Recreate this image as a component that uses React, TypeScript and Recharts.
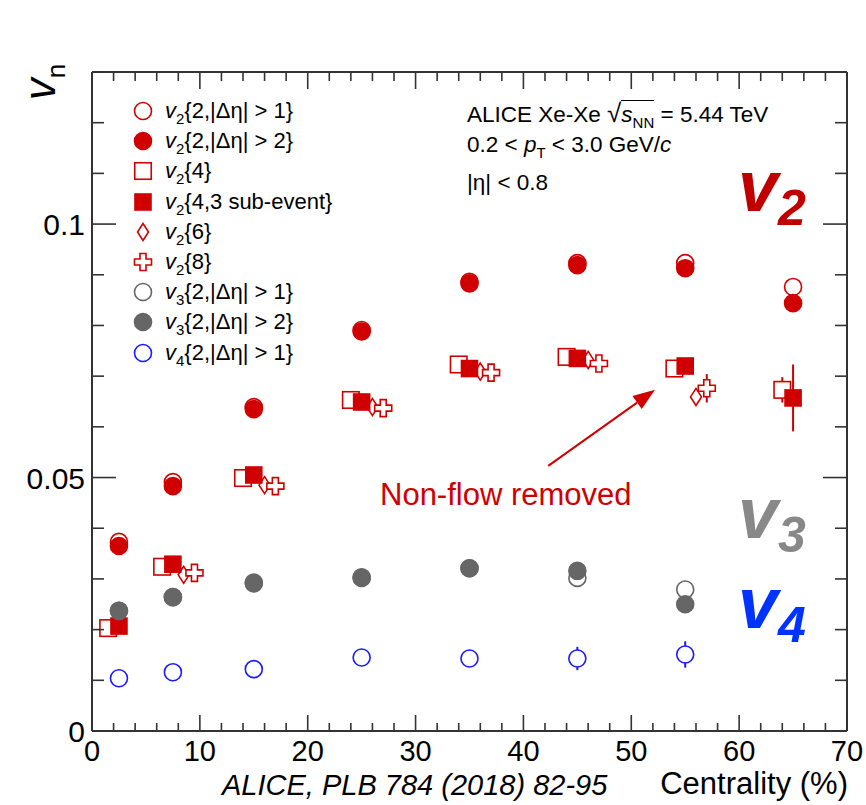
import React from "react";
import { ScatterChart, Scatter, XAxis, YAxis, ErrorBar, ReferenceLine } from "recharts";

// centrality bin centres (%)
const cent = [2.5, 7.5, 15, 25, 35, 45, 55, 65];
const centMid = [7.5, 15, 25, 35, 45, 55];
const centV3 = [2.5, 7.5, 15, 25, 35, 45, 55];

// v2 two-particle, |Δη| > 1 and > 2
const v2Gap1 = [0.0373, 0.0491, 0.0639, 0.0791, 0.0886, 0.0923, 0.0923, 0.0876];
const v2Gap1Err = [0, 0, 0, 0, 0, 0, 0, 0.001];
const v2Gap2 = [0.0365, 0.0483, 0.0635, 0.0788, 0.0883, 0.0919, 0.0913, 0.0844];

// v2 multi-particle cumulants
const v2c4 = [0.0203, 0.0324, 0.0499, 0.0653, 0.0723, 0.0738, 0.0715, 0.0673];
const v2c4Err = [0, 0, 0, 0, 0, 0, 0, 0.0025];
const v2c4Sub = [0.0207, 0.0329, 0.0505, 0.0649, 0.0715, 0.0735, 0.072, 0.0657];
const v2c4SubErr = [0, 0, 0, 0, 0, 0, 0, 0.0066];
const v2c6 = [0.0308, 0.0485, 0.0639, 0.0709, 0.0732, 0.0659];
const v2c8 = [0.0312, 0.0483, 0.0637, 0.0707, 0.0725, 0.0676];
const v2c8Err = [0, 0, 0, 0, 0, 0.0028];

// v3, v4
const v3Gap1 = [0.0237, 0.0264, 0.0293, 0.0302, 0.0321, 0.0302, 0.0279];
const v3Gap2 = [0.0237, 0.0264, 0.0291, 0.0303, 0.0321, 0.0316, 0.025];
const v4Gap1 = [0.0104, 0.0116, 0.0122, 0.0145, 0.0143, 0.0143, 0.0151];
const v4Gap1Err = [0, 0, 0, 0, 0, 0.0023, 0.0026];

const xTicks = [0, 2, 4, 6, 8, 10, 12, 14, 16, 18, 20, 22, 24, 26, 28, 30, 32, 34, 36, 38, 40, 42, 44, 46, 48, 50, 52, 54, 56, 58, 60, 62, 64, 66, 68, 70];
const yTicks = [0, 0.01, 0.02, 0.03, 0.04, 0.05, 0.06, 0.07, 0.08, 0.09, 0.1, 0.11, 0.12, 0.13];

const RED = "#d00000";
const GRAY = "#666666";
const BLUE = "#1a1aff";
const AXIS = "#333";
const FONT = '"Liberation Sans", Arial, Helvetica, sans-serif';

const build = (xs: number[], ys: number[], shift = 0, errs?: number[]) =>
  xs.map((c, i) => ({ x: c + shift, y: ys[i], e: errs ? errs[i] : 0 }));

type Kind = "circle" | "square" | "diamond" | "cross";

function Marker({ kind, cx, cy, color, filled }: { kind: Kind; cx: number; cy: number; color: string; filled: boolean }) {
  const fill = filled ? color : "#fff";
  const sw = 1.6;
  if (kind === "circle") return <circle cx={cx} cy={cy} r={8.5} fill={fill} stroke={color} strokeWidth={sw} />;
  if (kind === "square") {
    const s = filled ? 16 : 16.5;
    return <rect x={cx - s / 2} y={cy - s / 2} width={s} height={s} fill={fill} stroke={color} strokeWidth={sw} />;
  }
  if (kind === "diamond") {
    const w = 5.5, h = 8.5;
    return <polygon points={`${cx},${cy - h} ${cx + w},${cy} ${cx},${cy + h} ${cx - w},${cy}`} fill="none" stroke={color} strokeWidth={sw} />;
  }
  const a = 8.5, t = 3;
  const pts = [
    [-t, -a], [t, -a], [t, -t], [a, -t], [a, t], [t, t], [t, a], [-t, a], [-t, t], [-a, t], [-a, -t], [-t, -t],
  ].map(([dx, dy]) => `${cx + dx},${cy + dy}`).join(" ");
  return <polygon points={pts} fill={fill} stroke={color} strokeWidth={sw} />;
}

const series = [
  { id: "v2g1", n: "2", txt: "{2,|Δη| > 1}", kind: "circle" as Kind, color: RED, filled: false, data: build(cent, v2Gap1, 0, v2Gap1Err) },
  { id: "v2g2", n: "2", txt: "{2,|Δη| > 2}", kind: "circle" as Kind, color: RED, filled: true, data: build(cent, v2Gap2) },
  { id: "v2c4", n: "2", txt: "{4}", kind: "square" as Kind, color: RED, filled: false, data: build(cent, v2c4, -1, v2c4Err) },
  { id: "v2c4s", n: "2", txt: "{4,3 sub-event}", kind: "square" as Kind, color: RED, filled: true, data: build(cent, v2c4Sub, 0, v2c4SubErr) },
  { id: "v2c6", n: "2", txt: "{6}", kind: "diamond" as Kind, color: RED, filled: false, data: build(centMid, v2c6, 1) },
  { id: "v2c8", n: "2", txt: "{8}", kind: "cross" as Kind, color: RED, filled: false, data: build(centMid, v2c8, 2, v2c8Err) },
  { id: "v3g1", n: "3", txt: "{2,|Δη| > 1}", kind: "circle" as Kind, color: GRAY, filled: false, data: build(centV3, v3Gap1) },
  { id: "v3g2", n: "3", txt: "{2,|Δη| > 2}", kind: "circle" as Kind, color: GRAY, filled: true, data: build(centV3, v3Gap2) },
  { id: "v4g1", n: "4", txt: "{2,|Δη| > 1}", kind: "circle" as Kind, color: BLUE, filled: false, data: build(centV3, v4Gap1, 0, v4Gap1Err) },
];

const BottomTick = (p: any) => {
  const v = p.payload.value;
  const major = v % 10 === 0;
  return (
    <g>
      <line x1={p.x} x2={p.x} y1={p.y} y2={p.y - (major ? 16 : 8)} stroke={AXIS} strokeWidth={1.6} />
      {major && (
        <text x={p.x} y={p.y + 30} textAnchor="middle" fontFamily={FONT} fontSize={29} fill="#000">{v}</text>
      )}
    </g>
  );
};
const TopTick = (p: any) => {
  const major = p.payload.value % 10 === 0;
  return <line x1={p.x} x2={p.x} y1={p.y + 1} y2={p.y + 1 + (major ? 16 : 8)} stroke={AXIS} strokeWidth={1.6} />;
};
const isMajorY = (v: number) => Math.abs(v / 0.05 - Math.round(v / 0.05)) < 1e-6;
const LeftTick = (p: any) => {
  const v = p.payload.value;
  const major = isMajorY(v);
  return (
    <g>
      <line x1={p.x} x2={p.x + (major ? 24 : 12)} y1={p.y} y2={p.y} stroke={AXIS} strokeWidth={1.6} />
      {major && (
        <text x={p.x - 7} y={p.y + 11} textAnchor="end" fontFamily={FONT} fontSize={30} fill="#000">{String(v)}</text>
      )}
    </g>
  );
};
const RightTick = (p: any) => {
  const major = isMajorY(p.payload.value);
  return <line x1={p.x} x2={p.x - (major ? 24 : 12)} y1={p.y} y2={p.y} stroke={AXIS} strokeWidth={1.6} />;
};

const Arrow = (p: any) => {
  const { x1, y1, x2, y2 } = p;
  const ang = Math.atan2(y2 - y1, x2 - x1);
  const L = 22, W = 8;
  const bx = x2 - L * Math.cos(ang), by = y2 - L * Math.sin(ang);
  const nx = -Math.sin(ang) * W, ny = Math.cos(ang) * W;
  return (
    <g>
      <line x1={x1} y1={y1} x2={bx} y2={by} stroke={RED} strokeWidth={2} />
      <polygon points={`${x2},${y2} ${bx + nx},${by + ny} ${bx - nx},${by - ny}`} fill={RED} />
    </g>
  );
};

const sub = (s: string, size = 15): React.ReactNode => (
  <span style={{ fontSize: size, position: "relative", top: 6 }}>{s}</span>
);

export default function App() {
  return (
    <div style={{ position: "absolute", left: 0, top: 0, width: 866, height: 805, background: "#fff", overflow: "hidden", fontFamily: FONT }}>
      <ScatterChart width={866} height={805} margin={{ top: 71, right: 18, bottom: 0, left: 0 }}>
        <XAxis type="number" dataKey="x" domain={[0, 70]} ticks={xTicks} interval={0} height={74}
          tickSize={0} tickMargin={0} tickLine={false} tick={<BottomTick />} axisLine={{ stroke: AXIS, strokeWidth: 2 }} allowDataOverflow />
        <XAxis xAxisId="top" orientation="top" type="number" dataKey="x" domain={[0, 70]} ticks={xTicks} interval={0} height={1}
          tickSize={0} tickMargin={0} tickLine={false} tick={<TopTick />} axisLine={{ stroke: AXIS, strokeWidth: 2 }} allowDataOverflow />
        <YAxis type="number" dataKey="y" domain={[0, 0.13]} ticks={yTicks} interval={0} width={92}
          tickSize={0} tickMargin={0} tickLine={false} tick={<LeftTick />} axisLine={{ stroke: AXIS, strokeWidth: 2 }} allowDataOverflow />
        <YAxis yAxisId="right" orientation="right" type="number" dataKey="y" domain={[0, 0.13]} ticks={yTicks} interval={0} width={1}
          tickSize={0} tickMargin={0} tickLine={false} tick={<RightTick />} axisLine={{ stroke: AXIS, strokeWidth: 2 }} allowDataOverflow />
        {/* invisible series so the mirrored top/right axes get a domain */}
        <Scatter xAxisId="top" yAxisId="right" data={series[0].data} isAnimationActive={false} legendType="none" shape={() => <g />} />
        {series.map((s) => (
          <Scatter key={s.id} name={s.id} data={s.data} isAnimationActive={false}
            shape={(p: any) => <Marker kind={s.kind} cx={p.cx} cy={p.cy} color={s.color} filled={s.filled} />}>
            <ErrorBar dataKey="e" direction="y" width={0} stroke={s.color} strokeWidth={2} isAnimationActive={false} />
          </Scatter>
        ))}
        <ReferenceLine segment={[{ x: 42.3, y: 0.0523 }, { x: 52.2, y: 0.0673 }]} shape={<Arrow />} ifOverflow="visible" />
      </ScatterChart>

      {/* y title */}
      <div style={{ position: "absolute", left: 40, top: 82, transform: "translate(-50%,-50%) rotate(-90deg)", fontSize: 44, whiteSpace: "nowrap", lineHeight: 1 }}>
        <i>v</i><span style={{ fontSize: 26, position: "relative", top: 10 }}>n</span>
      </div>

      {/* x title and reference */}
      <div style={{ position: "absolute", right: 18, top: 768, fontSize: 31, lineHeight: 1, whiteSpace: "nowrap" }}>Centrality (%)</div>
      <div style={{ position: "absolute", left: 222, top: 771, fontSize: 29, lineHeight: 1, fontStyle: "italic", whiteSpace: "nowrap" }}>ALICE, PLB 784 (2018) 82-95</div>

      {/* legend */}
      {series.map((s, i) => (
        <div key={s.id} style={{ position: "absolute", left: 132, top: 111 + 30.2 * i - 15, height: 30, display: "flex", alignItems: "center", fontSize: 22, whiteSpace: "nowrap" }}>
          <svg width={22} height={22} style={{ display: "block" }}>
            <Marker kind={s.kind} cx={11} cy={11} color={s.color} filled={s.filled} />
          </svg>
          <span style={{ marginLeft: 11 }}><i>v</i>{sub(s.n)}{s.txt}</span>
        </div>
      ))}

      {/* system info */}
      <div style={{ position: "absolute", left: 467, top: 98, fontSize: 22.5, whiteSpace: "nowrap" }}>
        ALICE Xe-Xe <span style={{ fontSize: 26 }}>√</span><span style={{ borderTop: "1.5px solid #000", paddingTop: 1 }}><i>s</i>{sub("NN", 15)}</span> = 5.44 TeV
      </div>
      <div style={{ position: "absolute", left: 467, top: 132, fontSize: 22.5, whiteSpace: "nowrap" }}>
        0.2 &lt; <i>p</i>{sub("T", 15)} &lt; 3.0 GeV/<i>c</i>
      </div>
      <div style={{ position: "absolute", left: 467, top: 170, fontSize: 22.5, whiteSpace: "nowrap" }}>|η| &lt; 0.8</div>

      {/* big harmonic labels */}
      {[
        { n: "2", color: "#c00000", top: 150 },
        { n: "3", color: "#888888", top: 477 },
        { n: "4", color: "#0033ff", top: 567 },
      ].map((l) => (
        <div key={l.n} style={{ position: "absolute", left: 738, top: l.top, color: l.color, fontWeight: "bold", fontStyle: "italic", fontSize: 72, lineHeight: 1, whiteSpace: "nowrap" }}>
          v<span style={{ fontSize: 50, position: "relative", top: 14 }}>{l.n}</span>
        </div>
      ))}

      <div style={{ position: "absolute", left: 380, top: 477, color: RED, fontSize: 31, whiteSpace: "nowrap" }}>Non-flow removed</div>
    </div>
  );
}
